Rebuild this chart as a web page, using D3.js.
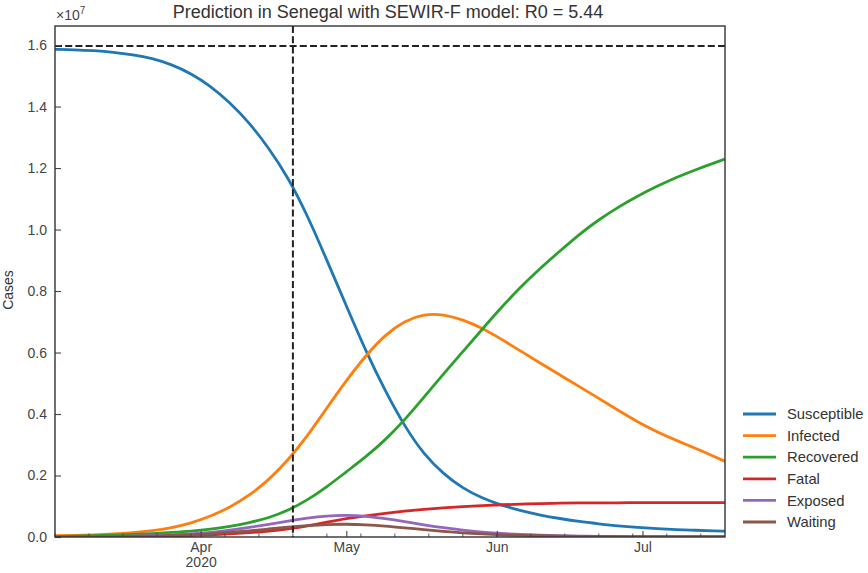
<!DOCTYPE html>
<html><head><meta charset="utf-8">
<script src="https://cdn.jsdelivr.net/npm/d3@7"></script>
<style>
body{margin:0;background:#fff;}
text{font-family:"Liberation Sans",Arial,sans-serif;}
</style></head>
<body><svg id="chart" width="868" height="573"></svg>
<script>
// values in units of 1e7 cases
const dates = ["2020-03-02","2020-03-06","2020-03-10","2020-03-14","2020-03-18","2020-03-22","2020-03-26","2020-03-30",
"2020-04-03","2020-04-07","2020-04-11","2020-04-15","2020-04-19","2020-04-23","2020-04-27","2020-05-01",
"2020-05-05","2020-05-09","2020-05-13","2020-05-17","2020-05-21","2020-05-25","2020-05-29","2020-06-02",
"2020-06-06","2020-06-10","2020-06-14","2020-06-18","2020-06-22","2020-06-26","2020-06-30","2020-07-04",
"2020-07-08","2020-07-12","2020-07-16","2020-07-18"];
const susceptible = [1.586,1.585,1.582,1.577,1.569,1.557,1.537,1.508,1.467,1.414,1.348,1.266,1.170,1.046,0.900,0.752,0.605,0.475,0.360,0.268,0.205,0.158,0.126,0.103,0.085,0.071,0.060,0.050,0.043,0.036,0.031,0.027,0.024,0.022,0.020,0.019];
const infected = [0.004,0.005,0.007,0.010,0.014,0.020,0.030,0.045,0.067,0.096,0.135,0.185,0.250,0.328,0.420,0.509,0.590,0.658,0.703,0.725,0.725,0.707,0.680,0.643,0.604,0.565,0.527,0.489,0.451,0.412,0.374,0.342,0.314,0.288,0.260,0.246];
const recovered = [0.002,0.003,0.004,0.006,0.008,0.011,0.015,0.019,0.025,0.034,0.046,0.062,0.086,0.120,0.163,0.212,0.260,0.315,0.380,0.455,0.530,0.603,0.676,0.748,0.815,0.875,0.930,0.985,1.032,1.073,1.109,1.141,1.170,1.195,1.218,1.229];
const fatal = [0.001,0.001,0.001,0.002,0.002,0.003,0.004,0.005,0.007,0.010,0.014,0.019,0.026,0.036,0.048,0.060,0.069,0.077,0.084,0.090,0.095,0.099,0.102,0.105,0.107,0.109,0.110,0.111,0.111,0.111,0.112,0.112,0.112,0.112,0.112,0.112];
const exposed = [0.001,0.001,0.002,0.002,0.003,0.005,0.007,0.010,0.015,0.022,0.031,0.041,0.052,0.062,0.069,0.071,0.068,0.060,0.050,0.039,0.030,0.022,0.016,0.011,0.008,0.006,0.004,0.003,0.002,0.002,0.001,0.001,0.001,0.001,0.001,0.001];
const waiting = [0.000,0.001,0.001,0.001,0.002,0.003,0.005,0.007,0.010,0.015,0.020,0.026,0.032,0.037,0.041,0.042,0.040,0.036,0.030,0.024,0.018,0.013,0.010,0.007,0.005,0.004,0.003,0.002,0.002,0.001,0.001,0.001,0.001,0.001,0.001,0.001];
const seriesNames = ["Susceptible","Infected","Recovered","Fatal","Exposed","Waiting"];
const seriesColors = ["#1f77b4","#ff7f0e","#2ca02c","#d62728","#9467bd","#8c564b"];
const yTicks = [0,0.2,0.4,0.6,0.8,1.0,1.2,1.4,1.6];
const xTickDates = ["2020-04-01","2020-05-01","2020-06-01","2020-07-01"];
const xTickLabels = ["Apr","May","Jun","Jul"];
const hLineValue = 1.597;
const vLineDate = "2020-04-20";
const xDomain = ["2020-03-02","2020-07-18"];
const yDomain = [0,1.662];
const title = "Prediction in Senegal with SEWIR-F model: R0 = 5.44";

const parse = d3.utcParse("%Y-%m-%d");
const svg = d3.select("#chart");
const L=55,R=725,T=26,B=537;
const x = d3.scaleUtc().domain(xDomain.map(parse)).range([L,R]);
const y = d3.scaleLinear().domain(yDomain).range([B,T]);
const allSeries=[susceptible,infected,recovered,fatal,exposed,waiting];
const parsedDates = dates.map(parse);

svg.append("defs").append("clipPath").attr("id","clip").append("rect")
  .attr("x",L).attr("y",T).attr("width",R-L).attr("height",B-T);

const plot = svg.append("g").attr("clip-path","url(#clip)");
const line = d3.line().x(d=>x(d[0])).y(d=>y(d[1])).curve(d3.curveBasis);
allSeries.forEach((s,i)=>{
  plot.append("path").datum(parsedDates.map((d,j)=>[d,s[j]]))
    .attr("d",line).attr("fill","none").attr("stroke",seriesColors[i]).attr("stroke-width",2.8)
    .attr("stroke-linejoin","round").attr("stroke-linecap","butt");
});
// reference lines
plot.append("line").attr("x1",L).attr("x2",R).attr("y1",y(hLineValue)).attr("y2",y(hLineValue))
  .attr("stroke","#222").attr("stroke-width",2).attr("stroke-dasharray","7,3.2");
plot.append("line").attr("x1",x(parse(vLineDate))).attr("x2",x(parse(vLineDate))).attr("y1",T).attr("y2",B)
  .attr("stroke","#222").attr("stroke-width",2).attr("stroke-dasharray","7,3.2");

// axes
const tc="#444";
const yAxis = d3.axisLeft(y).tickValues(yTicks).tickFormat(d3.format(".1f")).tickSizeInner(-6).tickSizeOuter(0).tickPadding(8);
const gy = svg.append("g").attr("transform",`translate(${L},0)`).call(yAxis);
gy.select(".domain").remove();
gy.selectAll("line").attr("stroke","#444").attr("stroke-width",1.1);
gy.selectAll("text").attr("fill",tc).attr("font-size",14);

const xAxis = d3.axisBottom(x).tickValues(xTickDates.map(parse)).tickFormat((d,i)=>xTickLabels[i]).tickSizeInner(-6).tickSizeOuter(0).tickPadding(5);
const gx = svg.append("g").attr("transform",`translate(0,${B})`).call(xAxis);
gx.select(".domain").remove();
gx.selectAll("line").attr("stroke","#444").attr("stroke-width",1.1);
gx.selectAll("text").attr("fill",tc).attr("font-size",14);
gx.selectAll(".tick").filter((d,i)=>i===0).append("text").attr("y",20).attr("dy","0.71em")
  .attr("fill",tc).attr("font-size",14).attr("text-anchor","middle").text("2020");

const minor = d3.utcMonday.range(x.domain()[0], x.domain()[1]);
svg.append("g").selectAll("line").data(minor).join("line")
  .attr("x1",d=>x(d)).attr("x2",d=>x(d)).attr("y1",B).attr("y2",B-3.5)
  .attr("stroke","#444").attr("stroke-width",0.9);

// frame
svg.append("rect").attr("x",L).attr("y",T).attr("width",R-L).attr("height",B-T)
  .attr("fill","none").attr("stroke","#333").attr("stroke-width",1.4);

// texts
svg.append("text").attr("x",(L+R)/2 - 2).attr("y",18).attr("text-anchor","middle").attr("font-size",18).attr("fill","#333").text(title);
const exp = svg.append("text").attr("x",L+1).attr("y",20).attr("font-size",14).attr("fill",tc);
exp.append("tspan").text("×10");
exp.append("tspan").attr("dy",-6).attr("font-size",10).text("7");
svg.append("text").attr("transform","translate(13,290) rotate(-90)").attr("text-anchor","middle")
  .attr("font-size",14).attr("fill","#333").text("Cases");

// legend
const lg = svg.append("g").attr("transform","translate(743,414)");
seriesNames.forEach((n,i)=>{
  const g=lg.append("g").attr("transform",`translate(0,${i*21.6})`);
  g.append("line").attr("x1",0).attr("x2",33).attr("stroke",seriesColors[i]).attr("stroke-width",2.8);
  g.append("text").attr("x",44).attr("dy","0.35em").attr("font-size",14.8).attr("fill","#333").text(n);
});
</script></body></html>
